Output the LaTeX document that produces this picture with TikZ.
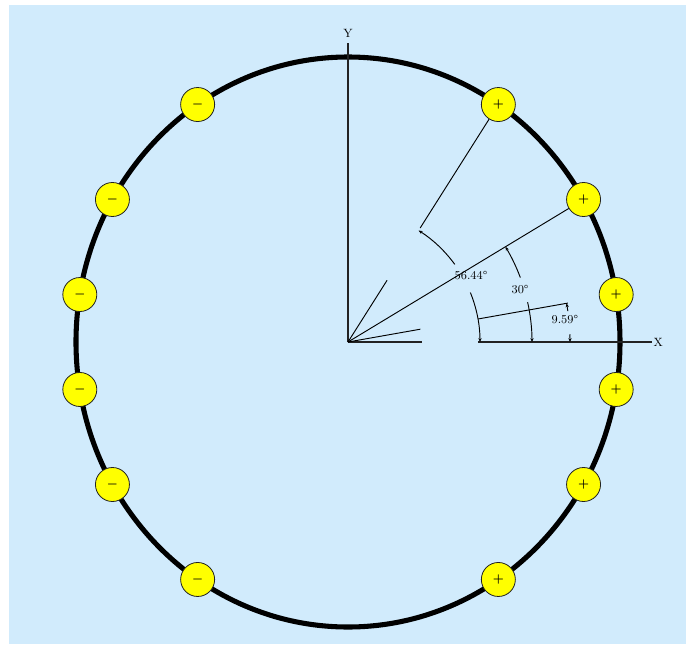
\documentclass[tikz,border=0pt]{standalone}
\usepackage{amsmath}
\usepackage{tikz}
\usetikzlibrary{arrows.meta,calc}
\definecolor{elsky}{HTML}{D1EBFC}
\definecolor{elyellow}{HTML}{FFFF00}
\definecolor{elink}{HTML}{222222}

\begin{document}
\begin{tikzpicture}[
  x=0.75pt, y=0.75pt,
  font=\small,
  ring/.style={draw=black, line width=3.8pt},
  charge/.style={circle, draw=elink, fill=elyellow, line width=0.6pt, minimum size=25.5pt, inner sep=0pt, font=\small},
  axis/.style={draw=elink, line width=1.1pt},
  ray/.style={draw=black, line width=0.7pt},
  dim/.style={draw=black, line width=0.7pt, -{Stealth[length=3pt,width=2.5pt]}},
  lbl/.style={inner sep=1pt, font=\small}
]
% Frame
\useasboundingbox (-348,-302) rectangle (338,342);
\fill[elsky] (-339,-302) rectangle (338,337);
\coordinate (O) at (0,0);
% Ring
\draw[ring] (O) ellipse [x radius=272, y radius=285];
% Axes
\coordinate (Ytip) at (0,299);
\coordinate (Xgap1) at (74,0);
\coordinate (Xgap2) at (130,0);
\coordinate (Xtip) at (304,0);
\draw[axis] (O) -- (Ytip);
\draw[axis] (O) -- (Xgap1);
\draw[axis] (Xgap2) -- (Xtip);
\node[lbl, above=3pt] (ylab) at (Ytip) {Y};
\node[lbl, right=0pt] (xlab) at (Xtip) {X};
% Charges
\foreach \a/\n in {56.44/p3, 30/p2, 9.59/p1, -9.59/q1, -30/q2, -56.44/q3} {
  \node[charge] (\n) at ({272*cos(\a)},{285*sin(\a)}) {$\boldsymbol{+}$};
  \node[charge] (m\n) at ({-272*cos(\a)},{285*sin(\a)}) {$\boldsymbol{-}$};
}
% Rays
\draw[ray] (O) -- ($(O)!0.26!(p3)$);
\draw[ray] ($(O)!0.48!(p3)$) -- (p3);
\draw[ray] (O) -- (p2);
\draw[ray] (O) -- ($(O)!0.27!(p1)$);
\draw[ray] ($(O)!0.485!(p1)$) -- ($(O)!0.82!(p1)$);
% Angle marks
\draw[dim] (36:132) arc[start angle=36, end angle=57.67, radius=132];
\draw[dim] (22:132) arc[start angle=22, end angle=0, radius=132];
\node[lbl] (a3) at (28.5:140) {56.44°};
\draw[dim] (20.5:184) arc[start angle=20.5, end angle=31.17, radius=184];
\draw[dim] (12.5:184) arc[start angle=12.5, end angle=0, radius=184];
\node[lbl] (a2) at (17:180) {30°};
\draw[dim] (8:222) arc[start angle=8, end angle=10.04, radius=222];
\draw[dim] (2:222) arc[start angle=2, end angle=0, radius=222];
\node[lbl] (a1) at (5.8:218) {9.59°};
\end{tikzpicture}
\end{document}
